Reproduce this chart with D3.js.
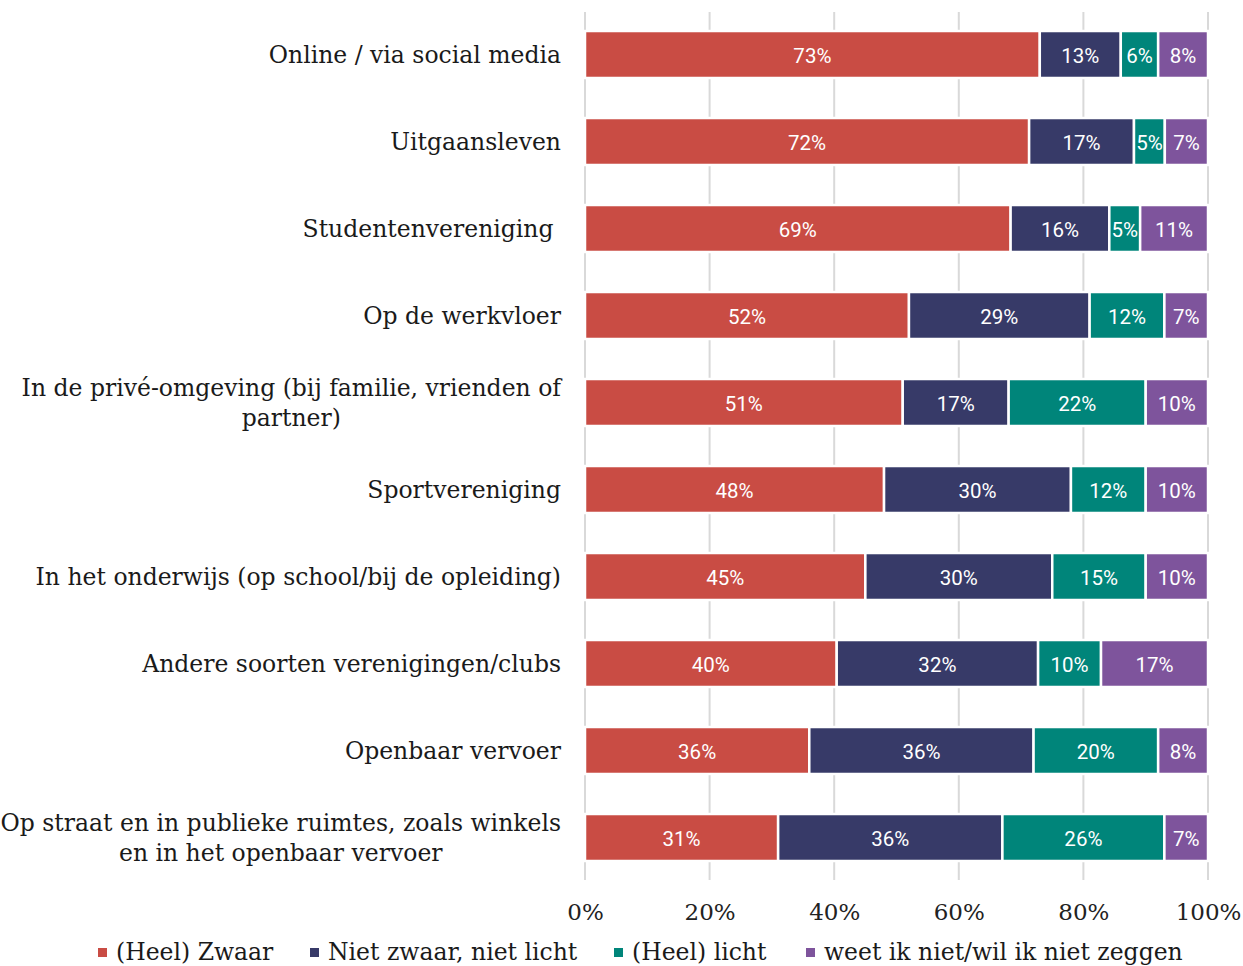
<!DOCTYPE html>
<html><head><meta charset="utf-8">
<script src="https://cdn.jsdelivr.net/npm/d3@7"></script>
<style>body{margin:0;background:#fff}svg{display:block}</style>
</head><body>
<svg id="c" width="1243" height="966"></svg>
<script>
const categories = [
  "Online / via social media",
  "Uitgaansleven",
  "Studentenvereniging ",
  "Op de werkvloer",
  "In de privé-omgeving (bij familie, vrienden of|partner)",
  "Sportvereniging",
  "In het onderwijs (op school/bij de opleiding)",
  "Andere soorten verenigingen/clubs",
  "Openbaar vervoer",
  "Op straat en in publieke ruimtes, zoals winkels|en in het openbaar vervoer"
];
const seriesNames = ["(Heel) Zwaar", "Niet zwaar, niet licht", "(Heel) licht", "weet ik niet/wil ik niet zeggen"];
const zwaar    = [73, 72, 69, 52, 51, 48, 45, 40, 36, 31];
const neutraal = [13, 17, 16, 29, 17, 30, 30, 32, 36, 36];
const licht    = [ 6,  5,  5, 12, 22, 12, 15, 10, 20, 26];
const weetniet = [ 8,  7, 11,  7, 10, 10, 10, 17,  8,  7];
const tickValues = [0, 0.2, 0.4, 0.6, 0.8, 1.0];
const colors = ["#C94C44", "#373A68", "#00857A", "#7E549C"];

const svg = d3.select("#c");
const W = 1243, H = 966;
const m = {left: 585, right: 35, top: 10, bottom: 86};
const serif = "'DejaVu Serif', serif";

const rows = categories.map((c, i) => {
  const vals = [zwaar[i], neutraal[i], licht[i], weetniet[i]];
  const total = d3.sum(vals);
  let acc = 0;
  const segs = vals.map((v, k) => { const s = {k, v, x0: acc / total, x1: (acc + v) / total}; acc += v; return s; });
  return {c, segs};
});

const x = d3.scaleLinear().domain([0, 1]).range([m.left, W - m.right]);
const y = d3.scaleBand().domain(d3.range(categories.length)).range([m.top + 1, H - m.bottom + 1]).paddingInner(0.46).paddingOuter(0.23);

// gridlines
svg.append("g").selectAll("line").data(tickValues).join("line")
  .attr("x1", d => x(d)).attr("x2", d => x(d))
  .attr("y1", m.top + 2).attr("y2", H - m.bottom)
  .attr("stroke", "#d9d9d9").attr("stroke-width", 2);

// x axis labels
const xAxis = d3.axisBottom(x).tickValues(tickValues).tickFormat(d3.format(".0%")).tickSize(0).tickPadding(0);
const gx = svg.append("g").attr("transform", `translate(0,${H - m.bottom + 32})`).call(xAxis);
gx.select(".domain").remove();
gx.selectAll("text").attr("font-family", serif).attr("font-size", 23).attr("fill", "#222").attr("dy", "0.35em");

// bars
const g = svg.append("g");
rows.forEach((r, i) => {
  const rg = g.append("g");
  rg.selectAll("rect").data(r.segs).join("rect")
    .attr("x", d => x(d.x0)).attr("width", d => x(d.x1) - x(d.x0))
    .attr("y", y(i)).attr("height", y.bandwidth())
    .attr("fill", d => colors[d.k]).attr("stroke", "#fff").attr("stroke-width", 2.5);
  rg.selectAll("text").data(r.segs).join("text")
    .attr("x", d => (x(d.x0) + x(d.x1)) / 2).attr("y", y(i) + y.bandwidth() / 2 + 1)
    .attr("text-anchor", "middle").attr("dominant-baseline", "central")
    .attr("font-family", "Roboto, sans-serif").attr("font-size", 20.5).attr("fill", "#fff")
    .text(d => d.v + "%");
});

// category labels
const lab = svg.append("g");
rows.forEach((r, i) => {
  const lines = r.c.split("|");
  const t = lab.append("text").attr("font-family", serif).attr("font-size", 23.5).attr("fill", "#1a1a1a")
    .style("white-space", "pre");
  const cy = y(i) + y.bandwidth() / 2;
  const lh = 30;
  lines.forEach((l, j) => {
    t.append("tspan").attr("y", cy + (j - (lines.length - 1) / 2) * lh).attr("dominant-baseline", "central").text(l);
  });
  const ts = t.selectAll("tspan").nodes();
  const widths = ts.map(n => n.getComputedTextLength());
  const maxW = d3.max(widths);
  const right = m.left - 24;
  ts.forEach(n => d3.select(n).attr("x", right - maxW / 2).attr("text-anchor", "middle"));
});

// legend
const legendX = [98, 310, 614, 806];
const lg = svg.append("g");
seriesNames.forEach((s, k) => {
  lg.append("rect").attr("x", legendX[k]).attr("y", 948).attr("width", 9).attr("height", 9).attr("fill", colors[k]);
  lg.append("text").attr("x", legendX[k] + 18).attr("y", 952).attr("dominant-baseline", "central")
    .attr("font-family", serif).attr("font-size", 23.5).attr("fill", "#1a1a1a").text(s);
});
</script>
</body></html>
